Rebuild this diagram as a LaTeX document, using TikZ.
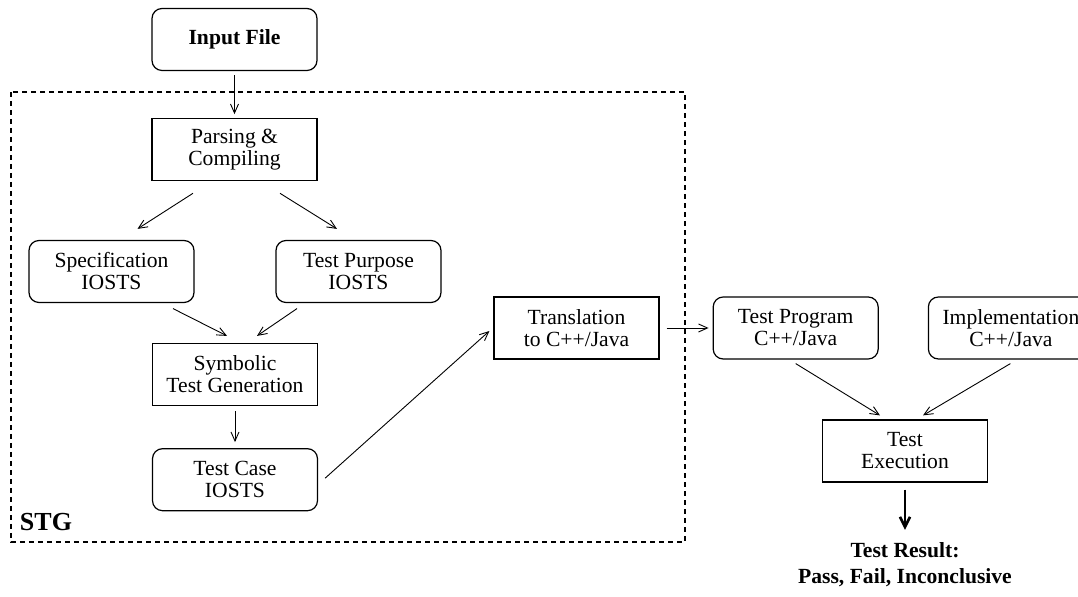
\documentclass[tikz,border=0pt]{standalone}
\usepackage{fontspec}
\setmainfont{Liberation Serif}
\usetikzlibrary{arrows.meta,positioning,calc}

\begin{document}
\begin{tikzpicture}[x=0.5pt,y=-0.5pt,
  bx/.style={draw,line width=0.6pt,minimum width=82.5pt,minimum height=31pt,inner sep=0pt,align=center,font=\fontsize{10.8}{11}\selectfont},
  rbx/.style={bx,rounded corners=5pt},
  ar/.style={line width=0.45pt,-{Straight Barb[length=4.5pt,width=4pt]}}]
\useasboundingbox (0,0) rectangle (1078,597);
\draw[line width=0.6pt,dash pattern=on 2.5pt off 2pt] (11,92) rectangle (685,542);
\node[rbx] (input) at (234.5,39.5) {\textbf{Input File}};
\node[bx,below=23.5pt of input] (parse) {Parsing \&\\Compiling};
\node[rbx] (spec) at (111.5,271.5) {Specification\\IOSTS};
\node[rbx] (purp) at (358.5,271.5) {Test Purpose\\IOSTS};
\node[bx] (symb) at (235,374.5) {Symbolic\\Test Generation};
\node[rbx,below=21pt of symb] (tcase) {Test Case\\IOSTS};
\node[bx] (trans) at (576.5,328) {Translation\\to C++/Java};
\node[rbx,right=26.5pt of trans] (tprog) {Test Program\\C++/Java};
\node[rbx,right=24.5pt of tprog] (impl) {Implementation\\C++/Java};
\node[bx] (exec) at (905,451) {Test\\Execution};
\node[font=\fontsize{10.8}{13}\selectfont\bfseries,align=center] (result) at (905,565) {Test Result:\\Pass, Fail, Inconclusive};
\node[font=\fontsize{13}{13}\selectfont\bfseries] (stg) at (46,522) {STG};
\draw[ar,shorten <=2pt,shorten >=2pt] (input) -- (parse);
\draw[ar] ($(parse.south)+(-41.5,12)$) -- ($(spec.north)+(26,-11)$);
\draw[ar] ($(parse.south)+(45.5,12)$) -- ($(purp.north)+(-21.5,-11)$);
\draw[ar] ($(spec.south)+(61.5,5.5)$) -- ($(symb.north)+(-8,-7)$);
\draw[ar] ($(purp.south)+(-61.5,5.5)$) -- ($(symb.north)+(22,-7)$);
\draw[ar,shorten <=2.5pt,shorten >=3pt] (symb) -- (tcase);
\draw[ar] ($(tcase.east)+(7,-1.5)$) -- ($(trans.west)+(-4,3)$);
\draw[ar,shorten <=3.5pt,shorten >=2pt] (trans) -- (tprog);
\draw[ar] ($(tprog.south)+(0,4)$) -- ($(exec.north)+(-25,-4)$);
\draw[ar] ($(impl.south)+(-0.5,4)$) -- ($(exec.north)+(18,-4)$);
\draw[line width=1.3pt,-{Straight Barb[length=5pt,width=5pt]},shorten <=3.5pt,shorten >=3pt] (exec) -- (result);
\end{tikzpicture}
\end{document}
